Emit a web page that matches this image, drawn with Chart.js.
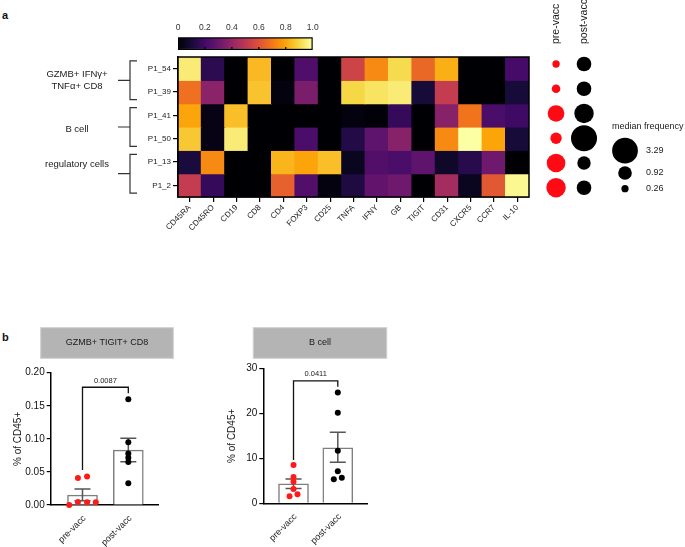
<!DOCTYPE html>
<html>
<head>
<meta charset="utf-8">
<script src="https://cdn.jsdelivr.net/npm/chart.js@4.4.1/dist/chart.umd.min.js"></script>
<style>
  body { margin: 0; background: #fff; width: 685px; height: 547px; overflow: hidden; position: relative; font-family: "Liberation Sans", Arial, sans-serif; }
  .box { position: absolute; }
  .panel { position: absolute; font-weight: bold; font-size: 11px; color: #111; }
</style>
</head>
<body>
<div class="panel" style="left:2px;top:9px;">a</div>
<div class="panel" style="left:2px;top:331px;">b</div>
<div class="box" style="left:0;top:0;"><canvas id="heat" width="535" height="260"></canvas></div>
<div class="box" style="left:160px;top:15px;"><canvas id="cbar" width="170" height="40"></canvas></div>
<div class="box" style="left:530px;top:0;"><canvas id="dots" width="155" height="260"></canvas></div>
<div class="box" style="left:0;top:290px;"><canvas id="cd8" width="220" height="257"></canvas></div>
<div class="box" style="left:220px;top:290px;"><canvas id="bcell" width="240" height="257"></canvas></div>
<script>
// ---- data: panel a (heatmap) ----
const markers = ["CD45RA", "CD45RO", "CD19", "CD8", "CD4", "FOXP3", "CD25", "TNFA", "IFNY", "GB", "TIGIT", "CD31", "CXCR5", "CCR7", "IL-10"];
const clusters = ["P1_54", "P1_39", "P1_41", "P1_50", "P1_13", "P1_2"];
const p1_54 = [0.95, 0.15, 0, 0.84, 0, 0.23, 0, 0.55, 0.74, 0.91, 0.66, 0.82, 0, 0, 0.21];
const p1_39 = [0.68, 0.38, 0, 0.86, 0.02, 0.34, 0, 0.9, 0.93, 0.95, 0.1, 0.52, 0, 0, 0.1];
const p1_41 = [0.8, 0.03, 0.85, 0, 0, 0, 0, 0.02, 0.01, 0.17, 0, 0.37, 0.69, 0.22, 0.19];
const p1_50 = [0.87, 0.03, 0.95, 0, 0, 0.22, 0, 0.13, 0.27, 0.37, 0, 0.74, 1.0, 0.8, 0.1];
const p1_13 = [0.11, 0.74, 0, 0, 0.83, 0.8, 0.85, 0.05, 0.24, 0.22, 0.27, 0.07, 0.14, 0.31, 0];
const p1_2 = [0.52, 0.17, 0, 0, 0.64, 0.24, 0.02, 0.12, 0.28, 0.31, 0, 0.44, 0.05, 0.62, 0.98];
const heatRows = [p1_54, p1_39, p1_41, p1_50, p1_13, p1_2];
const groupLabels = [["GZMB+ IFNγ+", "TNFα+ CD8"], ["B cell"], ["regulatory cells"]];
const colorbarTicks = [0, 0.2, 0.4, 0.6, 0.8, 1.0];

// median frequency per cluster
const timepoints = ["pre-vacc", "post-vacc"];
const preFreq = [0.27, 0.37, 1.37, 0.64, 1.72, 1.87];
const postFreq = [1.06, 1.06, 1.87, 3.35, 0.89, 1.06];
const freqLegend = [3.29, 0.92, 0.26];

// ---- data: panel b ----
const cd8Means = [0.015, 0.083];
const cd8SemLow = [0.0065, 0.0655];
const cd8SemHigh = [0.0242, 0.101];
const cd8Pre = [0, 0.041, 0.0045, 0.043, 0.004, 0.004];
const cd8PreJitter = [-0.29, -0.1, -0.1, 0.1, 0.1, 0.29];
const cd8Post = [0.16, 0.095, 0.078, 0.0715, 0.065, 0.033];
const cd8PostJitter = [0, 0, 0, 0, 0, 0];
const cd8Bracket = [0.053, 0.178, 0.169];
const cd8P = "0.0087";

const bMeans = [4.3, 12.35];
const bSemLow = [3.3, 9.1];
const bSemHigh = [5.4, 15.8];
const bPre = [8.5, 5.85, 4.8, 3.2, 1.55, 2.0];
const bPreJitter = [0, 0, 0, 0, -0.09, 0.09];
const bPost = [24.6, 20.1, 11.7, 7.1, 5.35, 5.7];
const bPostJitter = [0, 0, 0, 0, -0.09, 0.09];
const bBracket = [9.6, 27.2, 25.9];
const bP = "0.0411";

const FONT = '"Liberation Sans", Arial, sans-serif';
Chart.defaults.font.family = FONT;
Chart.defaults.color = "#1a1a1a";
Chart.defaults.animation = false;
Chart.defaults.plugins.legend.display = false;
Chart.defaults.plugins.tooltip.enabled = false;

// inferno colour map
const infernoStops = ["#000004", "#160b39", "#420a68", "#6a176e", "#932667", "#bc3754", "#dd513a", "#f37819", "#fca50a", "#f6d746", "#fcffa4"];
function hexRgb(h) {
  return [1, 3, 5].map((i) => parseInt(h.slice(i, i + 2), 16));
}
function inferno(v) {
  v = Math.min(1, Math.max(0, v));
  const p = v * 10;
  const i = Math.min(9, Math.floor(p));
  const t = p - i;
  const a = hexRgb(infernoStops[i]);
  const b = hexRgb(infernoStops[i + 1]);
  const c = a.map((x, k) => Math.round(x + (b[k] - x) * t));
  return `rgb(${c[0]},${c[1]},${c[2]})`;
}

// group brackets + frame for the heatmap
const heatDecor = {
  id: "heatDecor",
  afterDraw(chart) {
    const { ctx, chartArea: a, scales } = chart;
    const y = scales.y;
    ctx.save();
    ctx.strokeStyle = "#000";
    ctx.lineWidth = 1.5;
    ctx.strokeRect(a.left, a.top, a.right - a.left, a.bottom - a.top);

    const labelShift = [0, 2, -9];
    groupLabels.forEach((lines, g) => {
      const y0 = y.getPixelForValue(2 * g - 0.33);
      const y1 = y.getPixelForValue(2 * g + 1.33);
      const mid = (y0 + y1) / 2;
      ctx.strokeStyle = "#333";
      ctx.lineWidth = 1.2;
      ctx.beginPath();
      ctx.moveTo(137, y0);
      ctx.lineTo(130, y0);
      ctx.lineTo(130, y1);
      ctx.lineTo(137, y1);
      ctx.moveTo(118, mid);
      ctx.lineTo(130, mid);
      ctx.stroke();

      ctx.fillStyle = "#1a1a1a";
      ctx.font = "9.5px " + FONT;
      ctx.textAlign = "center";
      ctx.textBaseline = "middle";
      const c = mid + labelShift[g];
      lines.forEach((txt, k) => {
        ctx.fillText(txt, 77, c + (k - (lines.length - 1) / 2) * 12);
      });
    });
    ctx.restore();
  },
};

new Chart(document.getElementById("heat"), {
  type: "bar",
  data: {
    labels: markers,
    datasets: heatRows.map((row, r) => ({
      label: clusters[r],
      data: row.map(() => [r - 0.5, r + 0.5]),
      backgroundColor: (c) => inferno(row[c.dataIndex]),
      borderWidth: 0,
      inflateAmount: 0.6,
      barPercentage: 1,
      categoryPercentage: 1,
      grouped: false,
    })),
  },
  options: {
    responsive: false,
    layout: { padding: { top: 57, right: 6, left: 0, bottom: 0 } },
    scales: {
      x: {
        offset: true,
        grid: { offset: false, drawOnChartArea: false, tickLength: 5, color: "#000", lineWidth: 1.2 },
        border: { color: "#000", width: 1.5 },
        ticks: { maxRotation: 45, minRotation: 45, autoSkip: false, font: { size: 8 }, color: "#222", padding: 1 },
        afterFit: (s) => { s.height = 63; },
      },
      y: {
        type: "linear",
        min: -0.5,
        max: 5.5,
        reverse: true,
        grid: { drawOnChartArea: false, tickLength: 5, color: "#000", lineWidth: 1.2 },
        border: { color: "#000", width: 1.5 },
        afterBuildTicks: (s) => { s.ticks = clusters.map((_, i) => ({ value: i })); },
        ticks: { font: { size: 8 }, color: "#222", padding: 2, callback: (v) => clusters[v] },
        afterFit: (s) => { s.width = 178; },
      },
    },
  },
  plugins: [heatDecor],
});

// colour bar: tick labels and small inner ticks
const cbarTicks = {
  id: "cbarTicks",
  afterDraw(chart) {
    const { ctx, chartArea: a, scales } = chart;
    ctx.save();
    ctx.strokeStyle = "#000";
    ctx.lineWidth = 1.2;
    ctx.fillStyle = "#333";
    ctx.font = "8.5px " + FONT;
    ctx.textAlign = "center";
    ctx.textBaseline = "middle";
    colorbarTicks.forEach((v, i) => {
      const px = scales.x.getPixelForValue(v);
      ctx.fillText(v === 0 ? "0" : v.toFixed(1), px, 13);
      if (i > 0 && i < colorbarTicks.length - 1) {
        ctx.beginPath();
        ctx.moveTo(px, a.bottom);
        ctx.lineTo(px, a.bottom - 3);
        ctx.stroke();
      }
    });
    ctx.restore();
  },
};

new Chart(document.getElementById("cbar"), {
  type: "bar",
  data: {
    labels: ["scale"],
    datasets: [{
      data: [[0, 1]],
      backgroundColor: (c) => {
        const area = c.chart.chartArea;
        if (!area) return "#000";
        const g = c.chart.ctx.createLinearGradient(area.left, 0, area.right, 0);
        infernoStops.forEach((col, i) => g.addColorStop(i / 10, col));
        return g;
      },
      borderColor: "#000",
      borderWidth: 1.5,
      borderSkipped: false,
      barPercentage: 1,
      categoryPercentage: 1,
    }],
  },
  options: {
    responsive: false,
    indexAxis: "y",
    layout: { padding: { left: 18, right: 17.3, top: 22.3, bottom: 5 } },
    scales: {
      x: { min: 0, max: 1, display: false },
      y: { display: false },
    },
  },
  plugins: [cbarTicks],
});

// median frequency dots
const dotScale = 7.1;
const freqRadius = (v) => dotScale * Math.sqrt(v);

const dotDecor = {
  id: "dotDecor",
  afterDraw(chart) {
    const { ctx, scales } = chart;
    ctx.save();
    ctx.fillStyle = "#1a1a1a";
    ctx.font = "10.5px " + FONT;
    ctx.textAlign = "left";
    ctx.textBaseline = "middle";
    timepoints.forEach((t, i) => {
      ctx.save();
      ctx.translate(scales.x.getPixelForValue(i), 44);
      ctx.rotate(-Math.PI / 2);
      ctx.fillText(t, 0, 0);
      ctx.restore();
    });
    ctx.font = "9px " + FONT;
    ctx.fillText("median frequency", 82, 127);
    const legendY = [150.7, 173, 188.7];
    freqLegend.forEach((v, i) => {
      ctx.fillStyle = "#000";
      ctx.beginPath();
      ctx.arc(95, legendY[i], freqRadius(v), 0, Math.PI * 2);
      ctx.fill();
      ctx.fillStyle = "#1a1a1a";
      ctx.fillText(v.toFixed(2), 116, legendY[i]);
    });
    ctx.restore();
  },
};

new Chart(document.getElementById("dots"), {
  type: "bubble",
  data: {
    datasets: [
      {
        label: timepoints[0],
        data: preFreq.map((v, i) => ({ x: 0, y: i, r: freqRadius(v) })),
        backgroundColor: "#ff0a14",
        borderWidth: 0,
        clip: false,
      },
      {
        label: timepoints[1],
        data: postFreq.map((v, i) => ({ x: 1, y: i, r: freqRadius(v) })),
        backgroundColor: "#000",
        borderWidth: 0,
        clip: false,
      },
    ],
  },
  options: {
    responsive: false,
    events: [],
    layout: { padding: { top: 51.6, bottom: 59.9, left: 0, right: 0 } },
    scales: {
      x: { type: "linear", min: -0.467, max: 4.146, display: false },
      y: { type: "linear", min: -0.5, max: 5.5, reverse: true, display: false },
    },
  },
  plugins: [dotDecor],
});

// panel b: bar + dots + SEM + bracket
function createDotBarChart(canvas, cfg) {
  const decor = {
    id: "dotBarDecor",
    afterDatasetDraw(chart, args) {
      if (args.index !== 2) return;
      const { ctx, scales } = chart;
      ctx.save();
      ctx.strokeStyle = "#555";
      ctx.lineWidth = 1.5;
      cfg.means.forEach((m, i) => {
        const px = scales.x.getPixelForValue(i);
        const lo = scales.y.getPixelForValue(cfg.semLow[i]);
        const hi = scales.y.getPixelForValue(cfg.semHigh[i]);
        ctx.beginPath();
        ctx.moveTo(px, lo);
        ctx.lineTo(px, hi);
        ctx.moveTo(px - 8, lo);
        ctx.lineTo(px + 8, lo);
        ctx.moveTo(px - 8, hi);
        ctx.lineTo(px + 8, hi);
        ctx.stroke();
      });
      ctx.restore();
    },
    afterDraw(chart) {
      const { ctx, scales, chartArea } = chart;
      const x0 = scales.x.getPixelForValue(0);
      const x1 = scales.x.getPixelForValue(1);
      const [b0, bTop, b1] = cfg.bracket.map((v) => scales.y.getPixelForValue(v));
      ctx.save();
      ctx.strokeStyle = "#111";
      ctx.lineWidth = 1.3;
      ctx.beginPath();
      ctx.moveTo(x0, b0);
      ctx.lineTo(x0, bTop);
      ctx.lineTo(x1, bTop);
      ctx.lineTo(x1, b1);
      ctx.stroke();
      ctx.fillStyle = "#1a1a1a";
      ctx.font = "7.5px " + FONT;
      ctx.textAlign = "center";
      ctx.textBaseline = "bottom";
      ctx.fillText(cfg.pText, (x0 + x1) / 2, bTop - 3);

      // rotated group labels under the x axis
      ctx.font = "9px " + FONT;
      ctx.textAlign = "right";
      ctx.textBaseline = "middle";
      timepoints.forEach((t, i) => {
        ctx.save();
        ctx.translate(scales.x.getPixelForValue(i) + 2, chartArea.bottom + 12);
        ctx.rotate(-Math.PI / 4);
        ctx.fillText(t, 0, 0);
        ctx.restore();
      });

      const [hl, hr] = cfg.header;
      ctx.fillStyle = "#b4b4b4";
      ctx.fillRect(hl, 37.7, hr - hl, 30.6);
      ctx.strokeStyle = "#cfcfcf";
      ctx.lineWidth = 1;
      ctx.strokeRect(hl, 37.7, hr - hl, 30.6);
      ctx.fillStyle = "#1a1a1a";
      ctx.font = "9px " + FONT;
      ctx.textAlign = "center";
      ctx.textBaseline = "middle";
      ctx.fillText(cfg.title, (hl + hr) / 2, 53);
      ctx.restore();
    },
  };

  return new Chart(canvas, {
    type: "bar",
    data: {
      datasets: [
        {
          type: "scatter",
          data: cfg.pre.map((v, i) => ({ x: cfg.preJitter[i], y: v })),
          backgroundColor: "#ff1a1a",
          pointRadius: 3,
          pointBorderWidth: 0,
          clip: false,
        },
        {
          type: "scatter",
          data: cfg.post.map((v, i) => ({ x: 1 + cfg.postJitter[i], y: v })),
          backgroundColor: "#000",
          pointRadius: 3,
          pointBorderWidth: 0,
          clip: false,
        },
        {
          type: "bar",
          data: cfg.means.map((m, i) => ({ x: i, y: m })),
          backgroundColor: "#fff",
          borderColor: "#7f7f7f",
          borderWidth: 1.5,
          borderSkipped: "bottom",
          barThickness: 30,
        },
      ],
    },
    options: {
      responsive: false,
      events: [],
      layout: { padding: { top: cfg.padTop, right: cfg.padRight, left: 0, bottom: 0 } },
      scales: {
        x: {
          type: "linear",
          offset: false,
          min: cfg.xMin,
          max: cfg.xMax,
          grid: { display: false },
          border: { color: "#000", width: 1.5 },
          ticks: { display: false },
          afterFit: (s) => { s.height = cfg.xHeight; },
        },
        y: {
          min: 0,
          max: cfg.yMax,
          grid: { drawOnChartArea: false, tickLength: 4, color: "#000", lineWidth: 1.2 },
          border: { color: "#000", width: 1.5 },
          ticks: { stepSize: cfg.step, font: { size: 10 }, color: "#111", padding: 2, callback: (v) => v.toFixed(cfg.decimals) },
          title: { display: true, text: "% of CD45+", font: { size: 10 }, padding: { top: cfg.titlePad, bottom: 2 } },
          afterFit: (s) => { s.width = cfg.yWidth; },
        },
      },
    },
    plugins: [decor],
  });
}

createDotBarChart(document.getElementById("cd8"), {
  title: "GZMB+ TIGIT+ CD8",
  means: cd8Means, semLow: cd8SemLow, semHigh: cd8SemHigh,
  pre: cd8Pre, preJitter: cd8PreJitter, post: cd8Post, postJitter: cd8PostJitter,
  bracket: cd8Bracket, pText: cd8P,
  yMax: 0.2, step: 0.05, decimals: 2,
  xMin: -0.694, xMax: 1.648,
  padTop: 82.7, padRight: 62, yWidth: 50.7, xHeight: 42, titlePad: 12,
  header: [40.7, 173.3],
});

createDotBarChart(document.getElementById("bcell"), {
  title: "B cell",
  means: bMeans, semLow: bSemLow, semHigh: bSemHigh,
  pre: bPre, preJitter: bPreJitter, post: bPost, postJitter: bPostJitter,
  bracket: bBracket, pText: bP,
  yMax: 30, step: 10, decimals: 0,
  xMin: -0.682, xMax: 1.666,
  padTop: 78.3, padRight: 92.7, yWidth: 43.3, xHeight: 43.7, titlePad: 6,
  header: [33.3, 166.7],
});
</script>
</body>
</html>
